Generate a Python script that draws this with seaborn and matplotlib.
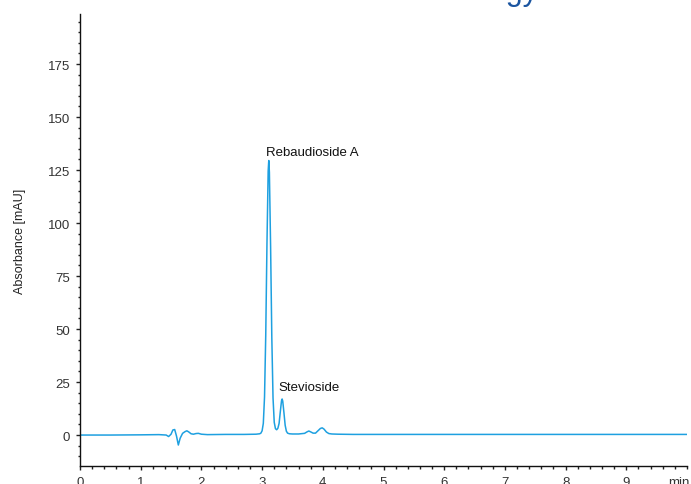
import numpy as np
import pandas as pd
import matplotlib
matplotlib.use("Agg")
import matplotlib.pyplot as plt
import seaborn as sns
from matplotlib.ticker import MultipleLocator
from matplotlib.transforms import blended_transform_factory, offset_copy

# ---- data ----
time_min = [0.0, 0.5, 1.0, 1.3, 1.42, 1.46, 1.50, 1.53, 1.56, 1.59, 1.62, 1.65, 1.69,
            1.73, 1.76, 1.79, 1.83, 1.87, 1.91, 1.95, 2.0, 2.1, 2.4, 2.7, 2.9, 2.96,
            2.98, 3.00, 3.02, 3.04, 3.06, 3.08, 3.10, 3.11, 3.12, 3.14, 3.16, 3.18,
            3.20, 3.22, 3.24, 3.26, 3.28, 3.30, 3.32, 3.33, 3.34, 3.36, 3.38, 3.40,
            3.42, 3.45, 3.50, 3.60, 3.70, 3.74, 3.77, 3.80, 3.84, 3.88, 3.92, 3.96,
            3.99, 4.02, 4.06, 4.10, 4.15, 4.25, 4.5, 5.0, 5.5, 6.0, 7.0, 8.0, 9.0, 10.0]
absorbance = [0.0, 0.0, 0.1, 0.2, 0.0, -0.7, 0.4, 2.4, 2.6, -0.5, -4.7, -1.5, 0.8,
              1.6, 2.0, 1.5, 0.6, 0.4, 0.7, 0.8, 0.4, 0.2, 0.3, 0.3, 0.4, 0.6,
              0.9, 2.0, 5.5, 18.0, 47.0, 90.0, 124.5, 129.5, 124.0, 89.0, 46.0, 17.5,
              6.0, 3.0, 2.5, 3.2, 5.5, 11.0, 16.2, 17.0, 16.0, 10.5, 4.6, 1.8,
              0.9, 0.6, 0.5, 0.5, 0.8, 1.5, 1.9, 1.5, 0.9, 0.9, 2.0, 3.1,
              3.4, 2.8, 1.4, 0.7, 0.5, 0.4, 0.3, 0.3, 0.3, 0.3, 0.3, 0.3, 0.3, 0.3]
peak_names = ["Rebaudioside A", "Stevioside"]
peak_label_x = [3.82, 3.77]
peak_label_y = [133.5, 22.6]
x_ticks = [0, 1, 2, 3, 4, 5, 6, 7, 8, 9]
y_ticks = [0, 25, 50, 75, 100, 125, 150, 175]

df = pd.DataFrame({"time": time_min, "abs": absorbance})

sns.set_style("ticks")
plt.rcParams["font.family"] = ["Liberation Sans", "DejaVu Sans"]

fig = plt.figure(figsize=(6.91, 4.85), dpi=100)
ax = fig.add_axes([80 / 691, 18 / 485, 607 / 691, 452 / 485])

sns.lineplot(data=df, x="time", y="abs", ax=ax, color="#1ea0e0", linewidth=1.1)

ax.set_xlim(0, 10)
ax.set_ylim(-14.6, 198.6)
ax.set_xticks(x_ticks)
ax.set_yticks(y_ticks)
ax.xaxis.set_minor_locator(MultipleLocator(0.2))
ax.yaxis.set_minor_locator(MultipleLocator(5))
ax.tick_params(axis="both", which="major", length=3, width=1, color="#222222",
               labelsize=9.5, labelcolor="#333333")
ax.tick_params(axis="both", which="minor", length=1.8, width=1, color="#222222")
ax.tick_params(axis="x", pad=4.5)
ax.tick_params(axis="y", pad=4)
for s in ["top", "right"]:
    ax.spines[s].set_visible(False)
for s in ["left", "bottom"]:
    ax.spines[s].set_color("#111111")
    ax.spines[s].set_linewidth(1.0)

ax.set_xlabel("")
ax.set_ylabel("Absorbance [mAU]", fontsize=9, color="#222222", labelpad=16)

trans = blended_transform_factory(ax.transData, ax.transAxes)
min_trans = offset_copy(trans, fig=fig, x=0, y=-7.5, units="points")
ax.text(9.87, 0.0, "min", transform=min_trans, ha="center", va="top",
        fontsize=9.5, color="#333333")

for name, px, py in zip(peak_names, peak_label_x, peak_label_y):
    ax.text(px, py, name, ha="center", va="center", fontsize=9.5, color="#111111")

fig.text(538 / 691, 1.0, "Technology", ha="right", va="baseline",
         fontsize=22, color="#1b55a0")

fig.savefig("out.png", dpi=100)
